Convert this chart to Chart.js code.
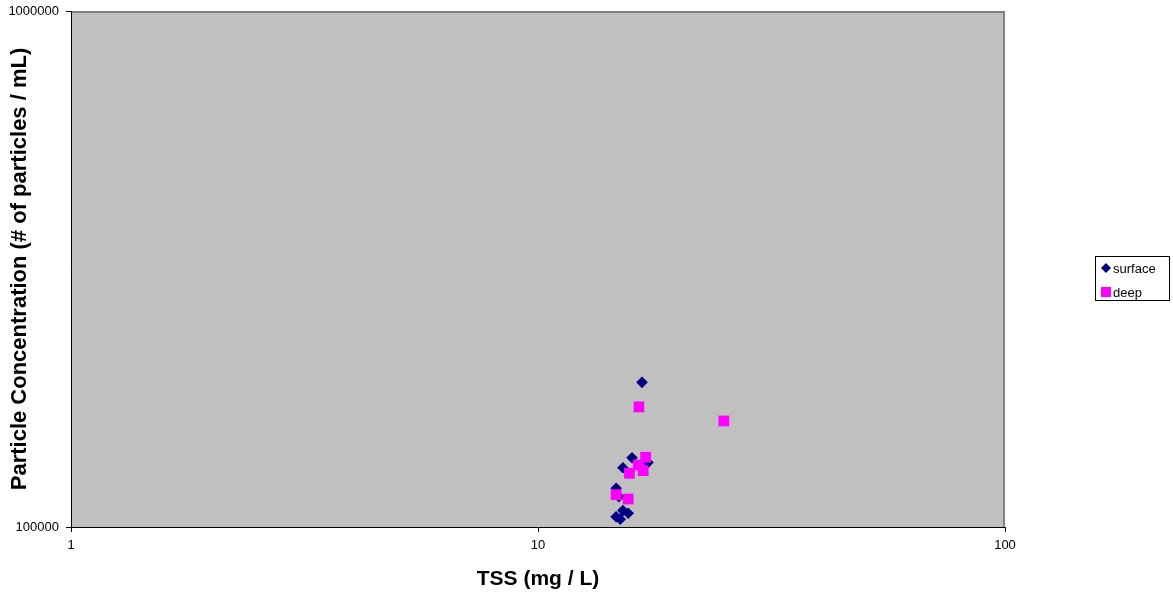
<!DOCTYPE html>
<html>
<head>
<meta charset="utf-8">
<script src="https://cdn.jsdelivr.net/npm/chart.js@4/dist/chart.umd.min.js"></script>
<style>
  html, body { margin: 0; padding: 0; background: #fff; }
  #wrap { width: 1173px; height: 594px; position: relative; }
</style>
</head>
<body>
<div id="wrap"><canvas id="tssChart"></canvas></div>
<script>
// --- datos ---
const SURFACE_TSS  = [16.7, 15.9, 15.2, 17.2, 14.7, 14.9, 15.2, 15.6, 14.7, 15.0];
const SURFACE_CONC = [190700, 136200, 130300, 133300, 118900, 114500, 107600, 106300, 104700, 103500];
const DEEP_TSS  = [16.45, 25.0, 17.0, 16.4, 16.8, 15.7, 14.7, 15.6];
const DEEP_CONC = [170900, 160500, 136500, 131900, 128600, 127100, 115500, 113300];
const X_TICKS = [1, 10, 100];
const Y_TICKS = [100000, 1000000];

const FONT = 'Arial, "Liberation Sans", sans-serif';

const toPoints = (xs, ys) => xs.map((x, i) => ({ x: x, y: ys[i] }));

// fondo gris del área de trazado + borde superior/derecho
const plotBg = {
    id: 'plotBg',
    beforeDraw(chart) {
        const { ctx, chartArea: a } = chart;
        ctx.save();
        ctx.fillStyle = '#C0C0C0';
        ctx.fillRect(a.left, a.top, a.right - a.left, a.bottom - a.top);
        ctx.strokeStyle = '#808080';
        ctx.lineWidth = 2;
        ctx.beginPath();
        ctx.moveTo(a.left, a.top + 1);
        ctx.lineTo(a.right - 1, a.top + 1);
        ctx.lineTo(a.right - 1, a.bottom);
        ctx.stroke();
        ctx.restore();
    }
};

// leyenda con recuadro, a la derecha
const boxLegend = {
    id: 'boxLegend',
    afterDraw(chart) {
        const ctx = chart.ctx;
        const x0 = 1095, y0 = 256, w = 74, h = 44;
        ctx.save();
        ctx.fillStyle = '#fff';
        ctx.fillRect(x0, y0, w, h);
        ctx.strokeStyle = '#000';
        ctx.lineWidth = 1;
        ctx.strokeRect(x0 + 0.5, y0 + 0.5, w, h);
        ctx.font = '13px ' + FONT;
        ctx.textBaseline = 'middle';
        chart.data.datasets.forEach((ds, i) => {
            const cy = y0 + 12 + i * 24;
            const cx = x0 + 11;
            ctx.fillStyle = ds.backgroundColor;
            if (ds.pointStyle === 'rectRot') {
                ctx.beginPath();
                ctx.moveTo(cx, cy - 5);
                ctx.lineTo(cx + 5, cy);
                ctx.lineTo(cx, cy + 5);
                ctx.lineTo(cx - 5, cy);
                ctx.closePath();
                ctx.fill();
            } else {
                ctx.fillRect(cx - 5, cy - 5, 10, 10);
            }
            ctx.fillStyle = '#000';
            ctx.fillText(ds.label, x0 + 18, cy + 1);
        });
        ctx.restore();
    }
};

new Chart(document.getElementById('tssChart'), {
    type: 'scatter',
    data: {
        datasets: [{
            label: 'surface',
            data: toPoints(SURFACE_TSS, SURFACE_CONC),
            backgroundColor: '#000080',
            borderColor: '#000080',
            borderWidth: 0,
            pointStyle: 'rectRot',
            pointRadius: 5.8,
            order: 1
        }, {
            label: 'deep',
            data: toPoints(DEEP_TSS, DEEP_CONC),
            backgroundColor: '#FF00FF',
            borderColor: '#FF00FF',
            borderWidth: 0,
            pointStyle: 'rect',
            pointRadius: 7.6,
            order: 0
        }]
    },
    options: {
        responsive: true,
        maintainAspectRatio: false,
        animation: false,
        layout: { padding: { top: 11, right: 168, left: 0, bottom: 0 } },
        plugins: {
            legend: { display: false },
            tooltip: { enabled: false }
        },
        scales: {
            x: {
                type: 'logarithmic',
                min: 1, max: 100,
                afterBuildTicks: s => { s.ticks = X_TICKS.map(v => ({ value: v })); },
                afterFit: s => { s.height = 67; },
                grid: { drawOnChartArea: false, drawTicks: true, tickLength: 5, color: '#000' },
                border: { display: true, color: '#000', width: 1 },
                ticks: {
                    color: '#000', font: { family: FONT, size: 13 }, padding: 6,
                    maxRotation: 0, autoSkip: false,
                    callback: v => String(v)
                },
                title: {
                    display: true, text: 'TSS (mg / L)', color: '#000',
                    font: { family: FONT, size: 21, weight: 'bold' },
                    padding: { top: 0, bottom: 2 }
                }
            },
            y: {
                type: 'logarithmic',
                min: 100000, max: 1000000,
                afterBuildTicks: s => { s.ticks = Y_TICKS.map(v => ({ value: v })); },
                afterFit: s => { s.width = 71; s.paddingTop = 0; s.paddingBottom = 0; },
                grid: { drawOnChartArea: false, drawTicks: true, tickLength: 5, color: '#000' },
                border: { display: true, color: '#000', width: 1 },
                ticks: {
                    color: '#000', font: { family: FONT, size: 13 }, padding: 7,
                    autoSkip: false,
                    callback: v => String(v)
                },
                title: {
                    display: true, text: 'Particle Concentration (# of particles / mL)', color: '#000',
                    font: { family: FONT, size: 22, weight: 'bold' },
                    padding: { top: 7, bottom: 0 }
                }
            }
        }
    },
    plugins: [plotBg, boxLegend]
});
</script>
</body>
</html>
